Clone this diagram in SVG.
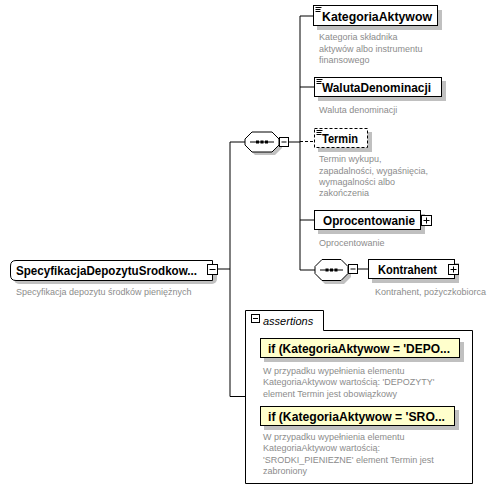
<svg xmlns="http://www.w3.org/2000/svg" width="497" height="488" viewBox="0 0 497 488">
<style>
.bg{fill:#ffffff}
.box{fill:#ffffff;stroke:#000000;stroke-width:1}
.dbox{fill:#ffffff;stroke:#000000;stroke-width:1;stroke-dasharray:3,2}
.ybox{fill:#ffffcc;stroke:#000000;stroke-width:1}
.sh{fill:#c0c0c0}
.ln{stroke:#000000;stroke-width:1;fill:none}
.dln{stroke:#000000;stroke-width:1;fill:none;stroke-dasharray:3,2}
.lbl{font-family:"Liberation Sans",Arial,sans-serif;font-size:12px;font-weight:bold;fill:#000000}
.desc{font-family:"Liberation Sans",Arial,sans-serif;font-size:9px;fill:#8c8c8c}
.ital{font-family:"Liberation Sans",Arial,sans-serif;font-size:11px;font-style:italic;fill:#000000}
.dot{fill:#000000}
</style>
<rect class="bg" x="0" y="0" width="497" height="488"/>

<g id="connectors">
<line class="ln" x1="217" y1="269" x2="230" y2="269"/>
<line class="ln" x1="230" y1="142" x2="230" y2="396.5"/>
<line class="ln" x1="230" y1="142" x2="245" y2="142"/>
<line class="ln" x1="230" y1="396.5" x2="245" y2="396.5"/>
<line class="ln" x1="289" y1="142" x2="300" y2="142"/>
<line class="ln" x1="300" y1="16" x2="300" y2="270"/>
<line class="ln" x1="300" y1="16" x2="313" y2="16"/>
<line class="ln" x1="300" y1="87" x2="314" y2="87"/>
<line class="dln" x1="300" y1="141.5" x2="314" y2="141.5"/>
<line class="ln" x1="300" y1="220" x2="314" y2="220"/>
<line class="ln" x1="300" y1="270" x2="315" y2="270"/>
<line class="ln" x1="358" y1="269" x2="368" y2="269"/>
</g>

<g id="root">
<rect class="sh" x="14" y="265" width="203" height="19" rx="5"/>
<path class="box" d="M16,260.5 H212.5 V280.5 H16 Q10.5,280.5 10.5,275 V266 Q10.5,260.5 16,260.5 Z"/>
<text class="lbl" x="16" y="275" textLength="181" lengthAdjust="spacingAndGlyphs">SpecyfikacjaDepozytuSrodkow...</text>
<rect class="box" x="207.5" y="264.5" width="10" height="10"/>
<line class="ln" x1="209.5" y1="269.5" x2="215.5" y2="269.5"/>
<text class="desc" x="16" y="295">Specyfikacja depozytu środków pieniężnych</text>
</g>

<g id="seq1">
<path class="sh" d="M255,135 H275 L282,142 V148 L275,155 H255 L248,148 V142 Z"/>
<path class="box" d="M252,132 H272 L279,139 V145 L272,152 H252 L245,145 V139 Z"/>
<line class="ln" x1="250" y1="142" x2="274" y2="142"/>
<rect class="dot" x="256" y="140.5" width="3" height="3"/>
<rect class="dot" x="260.5" y="140.5" width="3" height="3"/>
<rect class="dot" x="265" y="140.5" width="3" height="3"/>
<rect class="box" x="279.5" y="137.5" width="9" height="9"/>
<line class="ln" x1="281.5" y1="142" x2="286.5" y2="142"/>
</g>

<g id="KategoriaAktywow">
<rect class="sh" x="317" y="10" width="125" height="20"/>
<rect class="box" x="313.5" y="5.5" width="124" height="20"/>
<line class="ln" x1="315.5" y1="7.5" x2="321.5" y2="7.5"/>
<line class="ln" x1="315.5" y1="9.5" x2="320.5" y2="9.5"/>
<line class="ln" x1="315.5" y1="11.5" x2="320.5" y2="11.5"/>
<text class="lbl" x="322" y="20.5" textLength="110" lengthAdjust="spacingAndGlyphs">KategoriaAktywow</text>
<text class="desc" x="319" y="40">Kategoria składnika</text>
<text class="desc" x="319" y="51.5">aktywów albo instrumentu</text>
<text class="desc" x="319" y="63">finansowego</text>
</g>

<g id="WalutaDenominacji">
<rect class="sh" x="318" y="81" width="128" height="20"/>
<rect class="box" x="314.5" y="77.5" width="127" height="19"/>
<line class="ln" x1="316.5" y1="79.5" x2="322.5" y2="79.5"/>
<line class="ln" x1="316.5" y1="81.5" x2="321.5" y2="81.5"/>
<line class="ln" x1="316.5" y1="83.5" x2="321.5" y2="83.5"/>
<text class="lbl" x="322" y="92" textLength="109" lengthAdjust="spacingAndGlyphs">WalutaDenominacji</text>
<text class="desc" x="319" y="113">Waluta denominacji</text>
</g>

<g id="Termin">
<rect class="sh" x="318" y="132" width="54" height="20"/>
<rect class="dbox" x="314.5" y="128.5" width="53" height="19"/>
<line class="ln" x1="316.5" y1="130.5" x2="322.5" y2="130.5"/>
<line class="ln" x1="316.5" y1="132.5" x2="321.5" y2="132.5"/>
<line class="ln" x1="316.5" y1="134.5" x2="321.5" y2="134.5"/>
<text class="lbl" x="322" y="142.5" textLength="36" lengthAdjust="spacingAndGlyphs">Termin</text>
<text class="desc" x="319" y="162">Termin wykupu,</text>
<text class="desc" x="319" y="174">zapadalności, wygaśnięcia,</text>
<text class="desc" x="319" y="185">wymagalności albo</text>
<text class="desc" x="319" y="196">zakończenia</text>
</g>

<g id="Oprocentowanie">
<rect class="sh" x="318" y="214" width="107" height="20"/>
<rect class="box" x="314.5" y="210.5" width="106" height="19"/>
<text class="lbl" x="323" y="225" textLength="92" lengthAdjust="spacingAndGlyphs">Oprocentowanie</text>
<rect class="box" x="421.5" y="215.5" width="10" height="10"/>
<line class="ln" x1="423.5" y1="220.5" x2="429.5" y2="220.5"/>
<line class="ln" x1="426.5" y1="217.5" x2="426.5" y2="223.5"/>
<text class="desc" x="319" y="246">Oprocentowanie</text>
</g>

<g id="seq2">
<path class="sh" d="M325,263 H344 L351,270 V277 L344,284 H325 L318,277 V270 Z"/>
<path class="box" d="M322,259.5 H341 L348,266.5 V273.5 L341,280.5 H322 L315,273.5 V266.5 Z"/>
<line class="ln" x1="320" y1="270" x2="343" y2="270"/>
<rect class="dot" x="325.5" y="268.5" width="3" height="3"/>
<rect class="dot" x="330" y="268.5" width="3" height="3"/>
<rect class="dot" x="334.5" y="268.5" width="3" height="3"/>
<rect class="box" x="348.5" y="264.5" width="9" height="9"/>
<line class="ln" x1="350.5" y1="269" x2="355.5" y2="269"/>
</g>

<g id="Kontrahent">
<rect class="sh" x="372" y="263" width="87" height="20"/>
<rect class="box" x="368.5" y="259.5" width="86" height="19"/>
<text class="lbl" x="378" y="274" textLength="59" lengthAdjust="spacingAndGlyphs">Kontrahent</text>
<rect class="box" x="448.5" y="264.5" width="10" height="10"/>
<line class="ln" x1="450.5" y1="269.5" x2="456.5" y2="269.5"/>
<line class="ln" x1="453.5" y1="266.5" x2="453.5" y2="272.5"/>
<text class="desc" x="375" y="295">Kontrahent, pożyczkobiorca</text>
</g>

<g id="assertions">
<path class="box" d="M245.5,483.5 V310.5 H323.5 V330.5 H472.5 V483.5 Z"/>
<rect class="box" x="251.5" y="314.5" width="8" height="8"/>
<line class="ln" x1="253" y1="318.5" x2="258" y2="318.5"/>
<text class="ital" x="263" y="325">assertions</text>

<g id="assert1">
<rect class="sh" x="264" y="342" width="200" height="20"/>
<rect class="ybox" x="260.5" y="338.5" width="199" height="19"/>
<text class="lbl" x="268" y="353" textLength="182" lengthAdjust="spacingAndGlyphs">if (KategoriaAktywow = 'DEPO...</text>
<text class="desc" x="263" y="374">W przypadku wypełnienia elementu</text>
<text class="desc" x="263" y="385">KategoriaAktywow wartością: 'DEPOZYTY'</text>
<text class="desc" x="263" y="396.5">element Termin jest obowiązkowy</text>
</g>

<g id="assert2">
<rect class="sh" x="264" y="410" width="195" height="20"/>
<rect class="ybox" x="260.5" y="406.5" width="194" height="19"/>
<text class="lbl" x="268" y="421" textLength="177" lengthAdjust="spacingAndGlyphs">if (KategoriaAktywow = 'SRO...</text>
<text class="desc" x="263" y="440">W przypadku wypełnienia elementu</text>
<text class="desc" x="263" y="451">KategoriaAktywow wartością:</text>
<text class="desc" x="263" y="462.5">'SRODKI_PIENIEZNE' element Termin jest</text>
<text class="desc" x="263" y="474">zabroniony</text>
</g>
</g>
</svg>
